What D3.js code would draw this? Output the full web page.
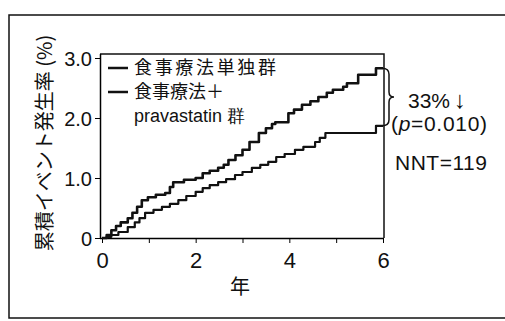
<!DOCTYPE html>
<html>
<head>
  <meta charset="UTF-8">
  <title>累積イベント発生率</title>
  <style>
    body { margin: 0; padding: 0; background: #fff; }
    svg { display: block; font-family: "Liberation Sans", Arial, sans-serif; }
    .cjk { font-family: "Noto Sans CJK JP", sans-serif; }
  </style>
</head>
<body>
  <svg width="505" height="321"></svg>

  <script src="https://d3js.org/d3.v7.min.js"></script>
  <script>
    // data (years, cumulative %)
    let dietTime = [0, 0.1, 0.2, 0.3, 0.4, 0.55, 0.65, 0.75, 0.85, 0.98, 1.15, 1.35, 1.45, 1.52, 1.75, 2.0, 2.15, 2.3, 2.48, 2.6, 2.7, 2.85, 3.0, 3.15, 3.35, 3.5, 3.63, 3.7, 3.98, 4.1, 4.27, 4.45, 4.62, 4.8, 4.93, 5.15, 5.23, 5.47, 5.85, 6.0];
    let dietRate = [0, 0.05, 0.13, 0.2, 0.26, 0.33, 0.42, 0.52, 0.63, 0.68, 0.72, 0.75, 0.85, 0.93, 0.97, 1.0, 1.08, 1.12, 1.17, 1.22, 1.3, 1.38, 1.47, 1.6, 1.75, 1.83, 1.9, 1.93, 2.08, 2.14, 2.22, 2.28, 2.35, 2.42, 2.47, 2.52, 2.58, 2.72, 2.83, 2.83];

    let pravaTime = [0, 0.1, 0.2, 0.35, 0.55, 0.7, 0.8, 0.92, 1.1, 1.28, 1.45, 1.63, 1.8, 2.0, 2.15, 2.3, 2.48, 2.65, 2.84, 3.0, 3.2, 3.38, 3.55, 3.72, 3.9, 4.12, 4.3, 4.55, 4.65, 4.77, 5.85, 6.0];
    let pravaRate = [0, 0.02, 0.05, 0.1, 0.18, 0.26, 0.33, 0.42, 0.47, 0.52, 0.57, 0.63, 0.7, 0.77, 0.83, 0.88, 0.93, 0.98, 1.05, 1.1, 1.17, 1.22, 1.27, 1.35, 1.4, 1.47, 1.52, 1.6, 1.67, 1.75, 1.87, 1.87];

    let xTicks = [0, 1, 2, 3, 4, 5, 6];
    let xLabels = {0: "0", 2: "2", 4: "4", 6: "6"};
    let yTicks = [0, 1, 2, 3];
    let yLabels = ["0", "1.0", "2.0", "3.0"];
    let legendNames = ["食事療法単独群", "食事療法＋", "pravastatin 群"];

    let svg = d3.select("svg");

    // outer frame
    svg.append("rect")
        .attr("x", 9).attr("y", 15)
        .attr("width", 520).attr("height", 303)
        .attr("fill", "none").attr("stroke", "#111").attr("stroke-width", 1.5);

    let x = d3.scaleLinear().domain([0, 6]).range([102, 383]);
    let y = d3.scaleLinear().domain([0, 3]).range([238, 58]);

    // plot box (top + right)
    svg.append("path")
        .attr("d", "M100,54 H384 V238")
        .attr("fill", "none").attr("stroke", "#111").attr("stroke-width", 1.5);

    let xAxis = svg.append("g")
        .attr("transform", "translate(0,238)")
        .call(d3.axisBottom(x).tickValues(xTicks).tickSize(5).tickSizeOuter(0)
              .tickFormat(d => xLabels[d] || ""));
    xAxis.select(".domain").attr("d", "M100,0.5H384").attr("stroke-width", 1.5);
    xAxis.selectAll("text").attr("font-size", 22).attr("dy", "1.0em").attr("fill", "#111");

    let yAxis = svg.append("g")
        .attr("transform", "translate(100,0)")
        .call(d3.axisLeft(y).tickValues(yTicks).tickSize(5).tickSizeOuter(0)
              .tickFormat((d, i) => yLabels[i]));
    yAxis.select(".domain").attr("d", "M0.5,238V54").attr("stroke-width", 1.5);
    yAxis.selectAll("text").attr("font-size", 20).attr("x", -8).attr("dy", "0.36em").attr("fill", "#111");

    // axis titles
    svg.append("text")
        .attr("class", "cjk")
        .attr("transform", "translate(52,143) rotate(-90)")
        .attr("text-anchor", "middle")
        .attr("font-size", 20)
        .attr("fill", "#111")
        .text("累積イベント発生率 (%)");

    svg.append("text")
        .attr("class", "cjk")
        .attr("x", 240).attr("y", 294)
        .attr("text-anchor", "middle")
        .attr("font-size", 20)
        .attr("fill", "#111")
        .text("年");

    // curves
    let line = d3.line()
        .x(d => x(d[0]))
        .y(d => y(d[1]))
        .curve(d3.curveStepAfter);

    let series = [
      d3.zip(dietTime, dietRate),
      d3.zip(pravaTime, pravaRate)
    ];

    svg.append("g").selectAll("path")
        .data(series)
        .enter()
        .append("path")
        .attr("d", line)
        .attr("fill", "none")
        .attr("stroke", "#111")
        .attr("stroke-width", (d, i) => i == 0 ? 2.6 : 2.2)
        .attr("stroke-linejoin", "round");

    // legend
    let legend = svg.append("g");
    [0, 1].forEach(i => {
      legend.append("line")
          .attr("x1", 108).attr("x2", 128)
          .attr("y1", 68 + i * 24).attr("y2", 68 + i * 24)
          .attr("stroke", "#111").attr("stroke-width", 2.5);
    });
    legend.selectAll("text")
        .data(legendNames)
        .enter()
        .append("text")
        .attr("class", (d, i) => i < 2 ? "cjk" : null)
        .attr("x", 134)
        .attr("y", (d, i) => 74 + i * 24)
        .attr("font-size", 18)
        .attr("textLength", (d, i) => i == 0 ? 142 : null)
        .attr("fill", "#111")
        .text(d => d);

    // brace between the curve ends
    let yTop = y(dietRate[dietRate.length - 1]), yBot = y(pravaRate[pravaRate.length - 1]);
    let yMid = (yTop + yBot) / 2;
    svg.append("path")
        .attr("d", `M382,${yTop} Q389,${yTop} 389,${yTop + 6} V${yMid - 5} Q389,${yMid} 394,${yMid}`
                 + ` Q389,${yMid} 389,${yMid + 5} V${yBot - 6} Q389,${yBot} 382,${yBot}`)
        .attr("fill", "none").attr("stroke", "#111").attr("stroke-width", 1.5);

    let note = svg.append("g").attr("fill", "#111").attr("font-size", 21);
    note.append("text").attr("x", 408).attr("y", 108).text("33%");
    note.append("text").attr("x", 454).attr("y", 108).attr("font-size", 24).text("↓");
    let pText = note.append("text").attr("x", 391).attr("y", 131).attr("textLength", 96);
    pText.append("tspan").text("(");
    pText.append("tspan").attr("font-style", "italic").text("p");
    pText.append("tspan").text("=0.010)");
    note.append("text").attr("x", 395).attr("y", 170).attr("textLength", 92).text("NNT=119");
  </script>
</body>
</html>
